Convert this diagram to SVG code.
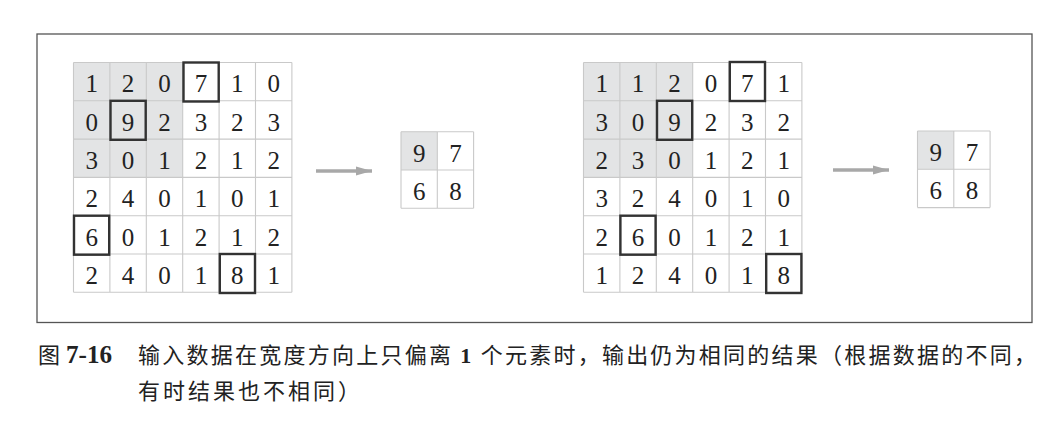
<svg xmlns="http://www.w3.org/2000/svg" width="1046" height="421" viewBox="0 0 1046 421">
<defs>
<style>
.bg{fill:#ffffff}
.frame{fill:none;stroke:#555;stroke-width:1.3}
.shade{fill:#e3e4e5}
.grid{fill:none;stroke:#c9c9c9;stroke-width:1.1}
.box{fill:none;stroke:#333;stroke-width:2.4}
.num{font-family:"Liberation Serif","DejaVu Serif",serif;font-size:25px;fill:#222;text-anchor:middle}
.arrow{stroke:#a8a8a8;stroke-width:3.6;fill:none}
.cap{font-family:"Noto Sans CJK SC","Noto Sans",sans-serif;font-size:22px;fill:#222}
.capnum{font-family:"Liberation Serif","DejaVu Serif",serif;font-weight:bold}
.capone{font-family:"Liberation Serif","DejaVu Serif",serif;font-weight:bold}
</style>
<marker id="ah" markerUnits="userSpaceOnUse" markerWidth="18" markerHeight="12" refX="16" refY="6" orient="auto">
<polygon points="0,1.5 16,6 0,10.5" fill="#a8a8a8"/>
</marker>
</defs>
<rect class="bg" x="0" y="0" width="1046" height="421"/>
<rect class="frame" x="37" y="34" width="995" height="288.5"/>

<g id="grid-left">
<rect class="shade" x="73.5" y="62.5" width="109.2" height="114.9"/>
<path class="grid" d="M73.5 62.5V292.3M109.9 62.5V292.3M146.3 62.5V292.3M182.7 62.5V292.3M219.1 62.5V292.3M255.5 62.5V292.3M291.9 62.5V292.3M73.5 62.5H291.9M73.5 100.8H291.9M73.5 139.1H291.9M73.5 177.4H291.9M73.5 215.7H291.9M73.5 254H291.9M73.5 292.3H291.9"/>
<g class="num">
<text x="91.7" y="92.4">1</text><text x="128.1" y="92.4">2</text><text x="164.5" y="92.4">0</text><text x="200.9" y="92.4">7</text><text x="237.3" y="92.4">1</text><text x="273.7" y="92.4">0</text>
<text x="91.7" y="130.7">0</text><text x="128.1" y="130.7">9</text><text x="164.5" y="130.7">2</text><text x="200.9" y="130.7">3</text><text x="237.3" y="130.7">2</text><text x="273.7" y="130.7">3</text>
<text x="91.7" y="169">3</text><text x="128.1" y="169">0</text><text x="164.5" y="169">1</text><text x="200.9" y="169">2</text><text x="237.3" y="169">1</text><text x="273.7" y="169">2</text>
<text x="91.7" y="207.3">2</text><text x="128.1" y="207.3">4</text><text x="164.5" y="207.3">0</text><text x="200.9" y="207.3">1</text><text x="237.3" y="207.3">0</text><text x="273.7" y="207.3">1</text>
<text x="91.7" y="245.6">6</text><text x="128.1" y="245.6">0</text><text x="164.5" y="245.6">1</text><text x="200.9" y="245.6">2</text><text x="237.3" y="245.6">1</text><text x="273.7" y="245.6">2</text>
<text x="91.7" y="283.9">2</text><text x="128.1" y="283.9">4</text><text x="164.5" y="283.9">0</text><text x="200.9" y="283.9">1</text><text x="237.3" y="283.9">8</text><text x="273.7" y="283.9">1</text>
</g>
<rect class="box" x="183.5" y="62.5" width="35.2" height="39"/>
<rect class="box" x="110.5" y="100.8" width="35.2" height="39"/>
<rect class="box" x="74" y="215.7" width="35.2" height="39"/>
<rect class="box" x="219.8" y="254" width="35.2" height="39"/>
</g>

<g id="output-left">
<rect class="shade" x="401" y="131.7" width="36.3" height="38.3"/>
<path class="grid" d="M401 131.7V208.3M437.3 131.7V208.3M473.6 131.7V208.3M401 131.7H473.6M401 170H473.6M401 208.3H473.6"/>
<g class="num">
<text x="419.2" y="161.6">9</text><text x="455.5" y="161.6">7</text>
<text x="419.2" y="199.9">6</text><text x="455.5" y="199.9">8</text>
</g>
</g>

<g id="grid-right">
<rect class="shade" x="583.5" y="62.5" width="109.2" height="114.9"/>
<path class="grid" d="M583.5 62.5V292.3M619.9 62.5V292.3M656.3 62.5V292.3M692.7 62.5V292.3M729.1 62.5V292.3M765.5 62.5V292.3M801.9 62.5V292.3M583.5 62.5H801.9M583.5 100.8H801.9M583.5 139.1H801.9M583.5 177.4H801.9M583.5 215.7H801.9M583.5 254H801.9M583.5 292.3H801.9"/>
<g class="num">
<text x="601.7" y="92.4">1</text><text x="638.1" y="92.4">1</text><text x="674.5" y="92.4">2</text><text x="710.9" y="92.4">0</text><text x="747.3" y="92.4">7</text><text x="783.7" y="92.4">1</text>
<text x="601.7" y="130.7">3</text><text x="638.1" y="130.7">0</text><text x="674.5" y="130.7">9</text><text x="710.9" y="130.7">2</text><text x="747.3" y="130.7">3</text><text x="783.7" y="130.7">2</text>
<text x="601.7" y="169">2</text><text x="638.1" y="169">3</text><text x="674.5" y="169">0</text><text x="710.9" y="169">1</text><text x="747.3" y="169">2</text><text x="783.7" y="169">1</text>
<text x="601.7" y="207.3">3</text><text x="638.1" y="207.3">2</text><text x="674.5" y="207.3">4</text><text x="710.9" y="207.3">0</text><text x="747.3" y="207.3">1</text><text x="783.7" y="207.3">0</text>
<text x="601.7" y="245.6">2</text><text x="638.1" y="245.6">6</text><text x="674.5" y="245.6">0</text><text x="710.9" y="245.6">1</text><text x="747.3" y="245.6">2</text><text x="783.7" y="245.6">1</text>
<text x="601.7" y="283.9">1</text><text x="638.1" y="283.9">2</text><text x="674.5" y="283.9">4</text><text x="710.9" y="283.9">0</text><text x="747.3" y="283.9">1</text><text x="783.7" y="283.9">8</text>
</g>
<rect class="box" x="729.8" y="62" width="35.2" height="39"/>
<rect class="box" x="657" y="100.8" width="35.2" height="39"/>
<rect class="box" x="620.4" y="215.7" width="35.2" height="39"/>
<rect class="box" x="766.2" y="254" width="35.2" height="39"/>
</g>

<g id="output-right">
<rect class="shade" x="917.5" y="131" width="36.3" height="38.3"/>
<path class="grid" d="M917.5 131V207.6M953.8 131V207.6M990.1 131V207.6M917.5 131H990.1M917.5 169.3H990.1M917.5 207.6H990.1"/>
<g class="num">
<text x="935.7" y="160.9">9</text><text x="972" y="160.9">7</text>
<text x="935.7" y="199.2">6</text><text x="972" y="199.2">8</text>
</g>
</g>

<g id="connectors">
<line class="arrow" x1="316" y1="171" x2="372" y2="171" marker-end="url(#ah)"/>
<line class="arrow" x1="833" y1="170" x2="889" y2="170" marker-end="url(#ah)"/>
</g>

<g id="caption">
<text class="cap" x="38" y="363">图<tspan class="capnum" x="66" font-size="25" textLength="46" lengthAdjust="spacingAndGlyphs">7-16</tspan></text>
<text class="cap" x="138" y="363" textLength="898" lengthAdjust="spacing">输入数据在宽度方向上只偏离 <tspan class="capone">1</tspan> 个元素时，输出仍为相同的结果（根据数据的不同，</text>
<text class="cap" x="138" y="399" letter-spacing="3">有时结果也不相同）</text>
</g>
</svg>
